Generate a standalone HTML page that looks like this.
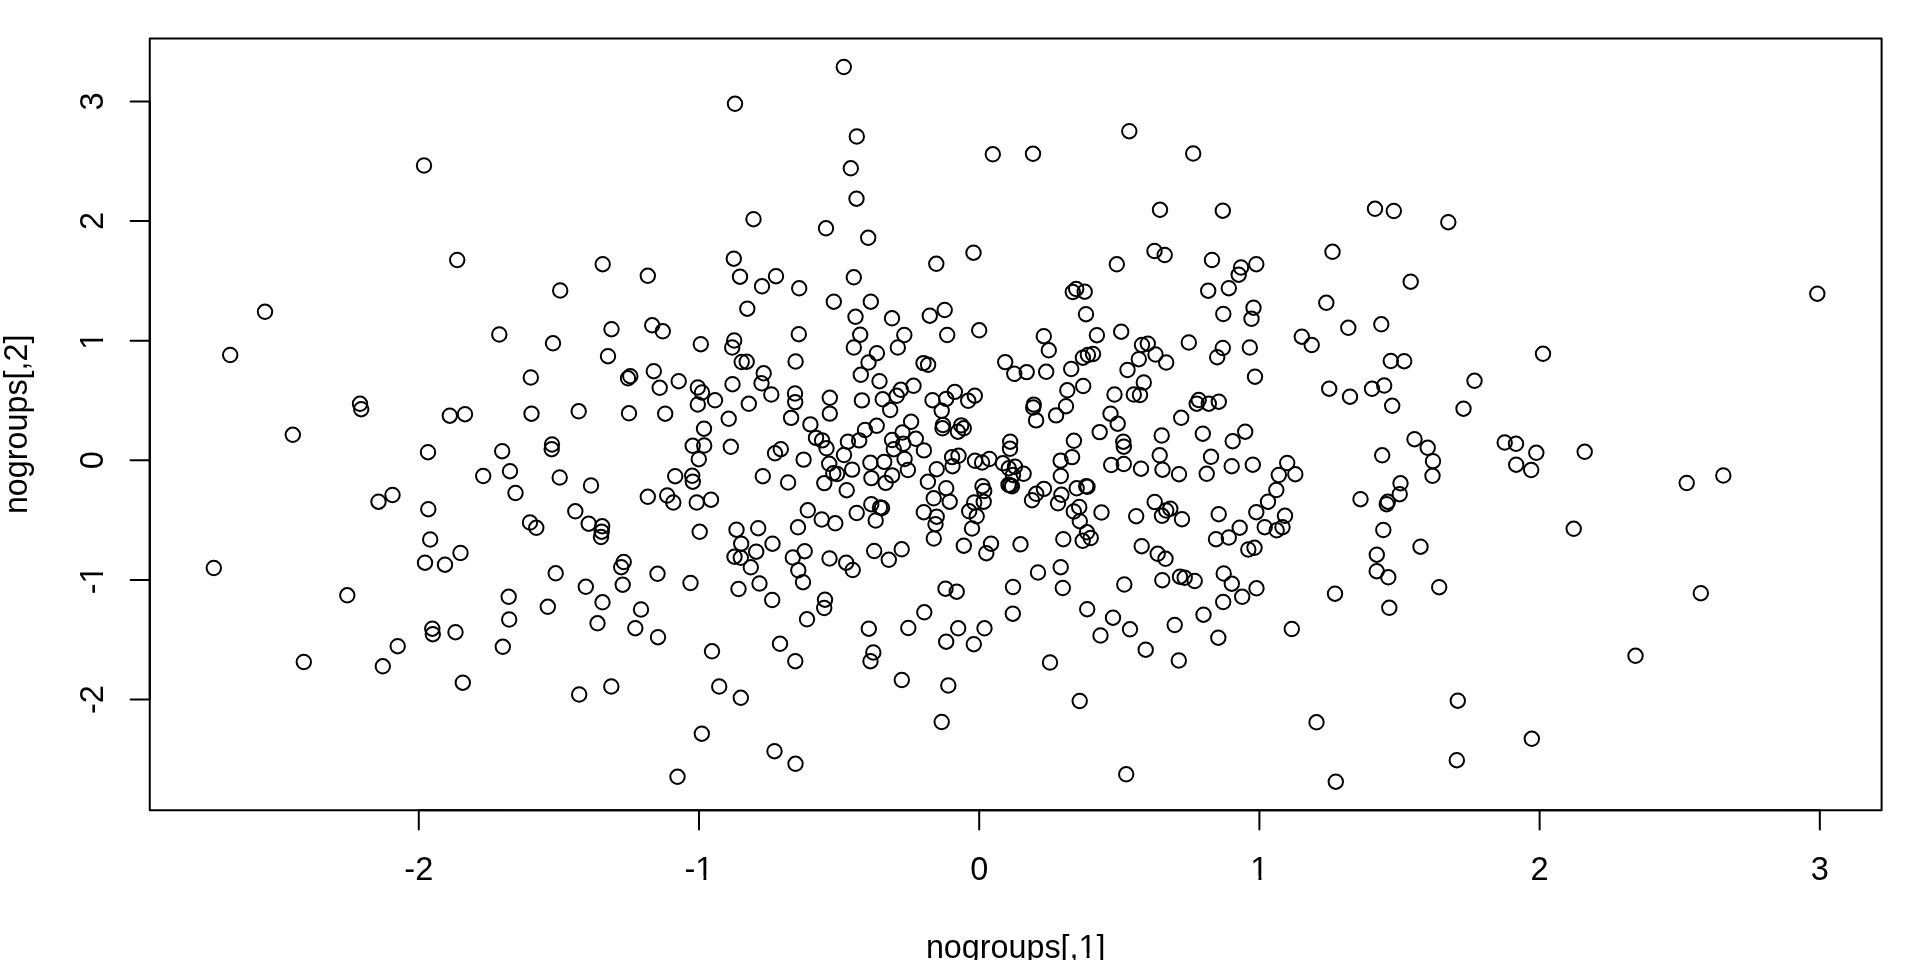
<!DOCTYPE html>
<html><head><meta charset="utf-8"><title>plot</title>
<style>html,body{margin:0;padding:0;background:#fff;overflow:hidden}svg{display:block;will-change:transform}text{font-family:"Liberation Sans",sans-serif;font-size:32.5px;fill:#000}text.t{font-size:32.3px}</style></head><body>
<svg width="1920" height="960" viewBox="0 0 1920 960">
<rect x="0" y="0" width="1920" height="960" fill="#fff"/>
<g fill="none" stroke="#000" stroke-width="2">
<circle cx="424.0" cy="165.5" r="7.2"/>
<circle cx="735.0" cy="103.8" r="7.2"/>
<circle cx="843.8" cy="67.0" r="7.2"/>
<circle cx="856.8" cy="136.5" r="7.2"/>
<circle cx="850.8" cy="168.3" r="7.2"/>
<circle cx="992.8" cy="154.3" r="7.2"/>
<circle cx="1033.0" cy="153.8" r="7.2"/>
<circle cx="1129.3" cy="131.2" r="7.2"/>
<circle cx="1193.2" cy="153.5" r="7.2"/>
<circle cx="1448.3" cy="222.2" r="7.2"/>
<circle cx="265.0" cy="311.8" r="7.2"/>
<circle cx="457.2" cy="260.0" r="7.2"/>
<circle cx="753.5" cy="219.2" r="7.2"/>
<circle cx="733.8" cy="258.7" r="7.2"/>
<circle cx="602.7" cy="264.2" r="7.2"/>
<circle cx="647.8" cy="275.8" r="7.2"/>
<circle cx="740.0" cy="276.7" r="7.2"/>
<circle cx="776.0" cy="276.2" r="7.2"/>
<circle cx="762.0" cy="286.3" r="7.2"/>
<circle cx="560.2" cy="290.5" r="7.2"/>
<circle cx="747.3" cy="308.7" r="7.2"/>
<circle cx="652.2" cy="325.3" r="7.2"/>
<circle cx="662.8" cy="331.3" r="7.2"/>
<circle cx="611.5" cy="329.2" r="7.2"/>
<circle cx="499.3" cy="334.5" r="7.2"/>
<circle cx="553.0" cy="343.3" r="7.2"/>
<circle cx="700.8" cy="344.2" r="7.2"/>
<circle cx="734.2" cy="340.5" r="7.2"/>
<circle cx="732.2" cy="347.5" r="7.2"/>
<circle cx="856.5" cy="198.7" r="7.2"/>
<circle cx="826.0" cy="228.3" r="7.2"/>
<circle cx="868.2" cy="237.8" r="7.2"/>
<circle cx="973.5" cy="252.7" r="7.2"/>
<circle cx="936.3" cy="263.8" r="7.2"/>
<circle cx="853.8" cy="277.3" r="7.2"/>
<circle cx="799.2" cy="288.3" r="7.2"/>
<circle cx="1072.8" cy="292.0" r="7.2"/>
<circle cx="1076.2" cy="289.0" r="7.2"/>
<circle cx="1084.7" cy="291.7" r="7.2"/>
<circle cx="833.8" cy="301.7" r="7.2"/>
<circle cx="870.8" cy="301.7" r="7.2"/>
<circle cx="944.7" cy="310.0" r="7.2"/>
<circle cx="929.8" cy="315.7" r="7.2"/>
<circle cx="855.5" cy="316.8" r="7.2"/>
<circle cx="892.0" cy="318.3" r="7.2"/>
<circle cx="1086.0" cy="314.2" r="7.2"/>
<circle cx="979.2" cy="330.3" r="7.2"/>
<circle cx="798.8" cy="334.2" r="7.2"/>
<circle cx="860.2" cy="334.7" r="7.2"/>
<circle cx="904.3" cy="335.0" r="7.2"/>
<circle cx="947.2" cy="335.0" r="7.2"/>
<circle cx="1043.8" cy="336.2" r="7.2"/>
<circle cx="1096.9" cy="335.2" r="7.2"/>
<circle cx="853.8" cy="347.5" r="7.2"/>
<circle cx="897.8" cy="347.5" r="7.2"/>
<circle cx="1160.0" cy="209.8" r="7.2"/>
<circle cx="1222.8" cy="210.7" r="7.2"/>
<circle cx="1375.0" cy="208.8" r="7.2"/>
<circle cx="1393.8" cy="211.0" r="7.2"/>
<circle cx="1154.5" cy="251.0" r="7.2"/>
<circle cx="1164.7" cy="255.0" r="7.2"/>
<circle cx="1116.8" cy="264.3" r="7.2"/>
<circle cx="1212.0" cy="260.0" r="7.2"/>
<circle cx="1241.0" cy="267.5" r="7.2"/>
<circle cx="1256.3" cy="264.2" r="7.2"/>
<circle cx="1238.7" cy="274.7" r="7.2"/>
<circle cx="1332.5" cy="251.8" r="7.2"/>
<circle cx="1410.7" cy="281.7" r="7.2"/>
<circle cx="1208.2" cy="290.7" r="7.2"/>
<circle cx="1228.8" cy="288.2" r="7.2"/>
<circle cx="1253.5" cy="307.7" r="7.2"/>
<circle cx="1223.3" cy="314.0" r="7.2"/>
<circle cx="1251.5" cy="318.8" r="7.2"/>
<circle cx="1326.3" cy="302.8" r="7.2"/>
<circle cx="1381.3" cy="324.3" r="7.2"/>
<circle cx="1348.3" cy="327.8" r="7.2"/>
<circle cx="1121.2" cy="331.7" r="7.2"/>
<circle cx="1301.8" cy="336.7" r="7.2"/>
<circle cx="1311.7" cy="345.0" r="7.2"/>
<circle cx="1188.8" cy="342.5" r="7.2"/>
<circle cx="1142.0" cy="345.0" r="7.2"/>
<circle cx="1147.8" cy="343.7" r="7.2"/>
<circle cx="1222.8" cy="348.0" r="7.2"/>
<circle cx="1249.8" cy="347.5" r="7.2"/>
<circle cx="1817.3" cy="293.7" r="7.2"/>
<circle cx="230.2" cy="355.0" r="7.2"/>
<circle cx="360.0" cy="403.8" r="7.2"/>
<circle cx="361.2" cy="409.2" r="7.2"/>
<circle cx="292.8" cy="434.8" r="7.2"/>
<circle cx="449.8" cy="415.7" r="7.2"/>
<circle cx="428.0" cy="452.2" r="7.2"/>
<circle cx="392.5" cy="495.0" r="7.2"/>
<circle cx="378.5" cy="501.7" r="7.2"/>
<circle cx="428.3" cy="509.2" r="7.2"/>
<circle cx="608.0" cy="356.2" r="7.2"/>
<circle cx="741.7" cy="362.0" r="7.2"/>
<circle cx="746.7" cy="361.7" r="7.2"/>
<circle cx="530.8" cy="377.5" r="7.2"/>
<circle cx="628.0" cy="378.3" r="7.2"/>
<circle cx="630.3" cy="376.2" r="7.2"/>
<circle cx="653.8" cy="371.2" r="7.2"/>
<circle cx="678.7" cy="381.2" r="7.2"/>
<circle cx="659.7" cy="387.8" r="7.2"/>
<circle cx="763.7" cy="373.3" r="7.2"/>
<circle cx="761.5" cy="383.3" r="7.2"/>
<circle cx="732.5" cy="384.2" r="7.2"/>
<circle cx="697.8" cy="387.5" r="7.2"/>
<circle cx="702.0" cy="392.5" r="7.2"/>
<circle cx="715.0" cy="400.3" r="7.2"/>
<circle cx="771.3" cy="394.5" r="7.2"/>
<circle cx="697.8" cy="404.5" r="7.2"/>
<circle cx="748.8" cy="403.8" r="7.2"/>
<circle cx="465.0" cy="414.2" r="7.2"/>
<circle cx="531.5" cy="413.7" r="7.2"/>
<circle cx="578.7" cy="411.3" r="7.2"/>
<circle cx="629.0" cy="413.3" r="7.2"/>
<circle cx="665.2" cy="413.7" r="7.2"/>
<circle cx="728.7" cy="418.8" r="7.2"/>
<circle cx="704.0" cy="428.7" r="7.2"/>
<circle cx="552.0" cy="444.5" r="7.2"/>
<circle cx="551.7" cy="449.2" r="7.2"/>
<circle cx="502.2" cy="451.2" r="7.2"/>
<circle cx="692.7" cy="445.8" r="7.2"/>
<circle cx="704.2" cy="445.5" r="7.2"/>
<circle cx="730.8" cy="446.8" r="7.2"/>
<circle cx="698.8" cy="459.2" r="7.2"/>
<circle cx="775.0" cy="453.3" r="7.2"/>
<circle cx="780.8" cy="449.2" r="7.2"/>
<circle cx="510.0" cy="471.2" r="7.2"/>
<circle cx="483.2" cy="476.0" r="7.2"/>
<circle cx="559.7" cy="477.5" r="7.2"/>
<circle cx="675.2" cy="476.2" r="7.2"/>
<circle cx="692.2" cy="475.8" r="7.2"/>
<circle cx="692.8" cy="481.7" r="7.2"/>
<circle cx="762.8" cy="476.2" r="7.2"/>
<circle cx="591.0" cy="485.5" r="7.2"/>
<circle cx="515.5" cy="493.0" r="7.2"/>
<circle cx="647.8" cy="496.8" r="7.2"/>
<circle cx="667.2" cy="495.5" r="7.2"/>
<circle cx="673.3" cy="502.5" r="7.2"/>
<circle cx="696.7" cy="502.5" r="7.2"/>
<circle cx="711.0" cy="499.7" r="7.2"/>
<circle cx="795.6" cy="361.5" r="7.2"/>
<circle cx="876.9" cy="353.2" r="7.2"/>
<circle cx="868.5" cy="362.5" r="7.2"/>
<circle cx="923.5" cy="363.1" r="7.2"/>
<circle cx="928.1" cy="364.8" r="7.2"/>
<circle cx="860.8" cy="374.8" r="7.2"/>
<circle cx="879.5" cy="381.2" r="7.2"/>
<circle cx="913.5" cy="385.8" r="7.2"/>
<circle cx="900.8" cy="389.8" r="7.2"/>
<circle cx="896.7" cy="395.8" r="7.2"/>
<circle cx="795.0" cy="393.5" r="7.2"/>
<circle cx="795.2" cy="402.1" r="7.2"/>
<circle cx="829.8" cy="397.8" r="7.2"/>
<circle cx="829.8" cy="413.6" r="7.2"/>
<circle cx="861.9" cy="400.4" r="7.2"/>
<circle cx="882.7" cy="399.3" r="7.2"/>
<circle cx="890.2" cy="410.0" r="7.2"/>
<circle cx="932.5" cy="400.2" r="7.2"/>
<circle cx="791.1" cy="417.9" r="7.2"/>
<circle cx="810.4" cy="424.4" r="7.2"/>
<circle cx="911.1" cy="421.8" r="7.2"/>
<circle cx="1005.2" cy="362.1" r="7.2"/>
<circle cx="1014.3" cy="373.8" r="7.2"/>
<circle cx="1026.7" cy="372.1" r="7.2"/>
<circle cx="1046.2" cy="371.8" r="7.2"/>
<circle cx="1048.8" cy="350.3" r="7.2"/>
<circle cx="1071.2" cy="369.0" r="7.2"/>
<circle cx="1083.2" cy="386.0" r="7.2"/>
<circle cx="1067.3" cy="390.3" r="7.2"/>
<circle cx="1066.0" cy="406.2" r="7.2"/>
<circle cx="1056.1" cy="415.4" r="7.2"/>
<circle cx="1033.8" cy="404.6" r="7.2"/>
<circle cx="1033.2" cy="407.5" r="7.2"/>
<circle cx="1036.1" cy="420.4" r="7.2"/>
<circle cx="954.8" cy="391.9" r="7.2"/>
<circle cx="974.8" cy="395.7" r="7.2"/>
<circle cx="968.2" cy="400.8" r="7.2"/>
<circle cx="946.2" cy="398.9" r="7.2"/>
<circle cx="941.7" cy="410.8" r="7.2"/>
<circle cx="1082.9" cy="357.7" r="7.2"/>
<circle cx="1087.9" cy="355.0" r="7.2"/>
<circle cx="1093.0" cy="354.0" r="7.2"/>
<circle cx="876.7" cy="425.8" r="7.2"/>
<circle cx="865.0" cy="430.0" r="7.2"/>
<circle cx="816.0" cy="437.9" r="7.2"/>
<circle cx="822.1" cy="440.4" r="7.2"/>
<circle cx="826.5" cy="448.3" r="7.2"/>
<circle cx="847.9" cy="441.7" r="7.2"/>
<circle cx="859.2" cy="440.4" r="7.2"/>
<circle cx="844.0" cy="455.0" r="7.2"/>
<circle cx="803.6" cy="459.6" r="7.2"/>
<circle cx="829.2" cy="463.8" r="7.2"/>
<circle cx="852.1" cy="469.6" r="7.2"/>
<circle cx="833.3" cy="473.3" r="7.2"/>
<circle cx="837.1" cy="474.0" r="7.2"/>
<circle cx="824.3" cy="483.1" r="7.2"/>
<circle cx="788.1" cy="482.5" r="7.2"/>
<circle cx="846.7" cy="490.2" r="7.2"/>
<circle cx="892.1" cy="440.0" r="7.2"/>
<circle cx="902.5" cy="432.5" r="7.2"/>
<circle cx="915.8" cy="438.8" r="7.2"/>
<circle cx="903.3" cy="443.8" r="7.2"/>
<circle cx="893.8" cy="449.2" r="7.2"/>
<circle cx="923.9" cy="450.4" r="7.2"/>
<circle cx="904.6" cy="459.0" r="7.2"/>
<circle cx="870.4" cy="462.8" r="7.2"/>
<circle cx="884.2" cy="461.9" r="7.2"/>
<circle cx="907.9" cy="470.0" r="7.2"/>
<circle cx="871.4" cy="478.1" r="7.2"/>
<circle cx="892.1" cy="475.4" r="7.2"/>
<circle cx="885.7" cy="482.9" r="7.2"/>
<circle cx="927.9" cy="481.8" r="7.2"/>
<circle cx="936.7" cy="469.2" r="7.2"/>
<circle cx="943.0" cy="425.0" r="7.2"/>
<circle cx="942.5" cy="428.3" r="7.2"/>
<circle cx="961.2" cy="425.4" r="7.2"/>
<circle cx="963.8" cy="428.3" r="7.2"/>
<circle cx="957.9" cy="431.7" r="7.2"/>
<circle cx="1099.7" cy="432.1" r="7.2"/>
<circle cx="1073.9" cy="440.8" r="7.2"/>
<circle cx="1010.2" cy="441.7" r="7.2"/>
<circle cx="1010.0" cy="448.8" r="7.2"/>
<circle cx="1072.1" cy="457.1" r="7.2"/>
<circle cx="1060.6" cy="460.6" r="7.2"/>
<circle cx="1060.8" cy="476.0" r="7.2"/>
<circle cx="952.1" cy="457.1" r="7.2"/>
<circle cx="958.5" cy="455.8" r="7.2"/>
<circle cx="952.5" cy="466.2" r="7.2"/>
<circle cx="975.0" cy="460.8" r="7.2"/>
<circle cx="982.1" cy="462.5" r="7.2"/>
<circle cx="989.4" cy="459.0" r="7.2"/>
<circle cx="1002.9" cy="463.3" r="7.2"/>
<circle cx="1008.8" cy="468.3" r="7.2"/>
<circle cx="1015.0" cy="466.7" r="7.2"/>
<circle cx="1023.6" cy="473.8" r="7.2"/>
<circle cx="1013.0" cy="475.0" r="7.2"/>
<circle cx="1008.5" cy="484.8" r="7.2"/>
<circle cx="1010.2" cy="485.4" r="7.2"/>
<circle cx="1012.0" cy="486.3" r="7.2"/>
<circle cx="946.2" cy="488.2" r="7.2"/>
<circle cx="982.5" cy="486.2" r="7.2"/>
<circle cx="984.2" cy="491.0" r="7.2"/>
<circle cx="1043.9" cy="488.9" r="7.2"/>
<circle cx="1036.2" cy="493.8" r="7.2"/>
<circle cx="1061.4" cy="494.8" r="7.2"/>
<circle cx="1076.7" cy="488.3" r="7.2"/>
<circle cx="1086.2" cy="486.2" r="7.2"/>
<circle cx="1087.5" cy="486.7" r="7.2"/>
<circle cx="1155.5" cy="354.5" r="7.2"/>
<circle cx="1138.8" cy="359.2" r="7.2"/>
<circle cx="1166.2" cy="362.5" r="7.2"/>
<circle cx="1127.5" cy="370.0" r="7.2"/>
<circle cx="1217.2" cy="357.2" r="7.2"/>
<circle cx="1390.8" cy="361.0" r="7.2"/>
<circle cx="1404.2" cy="361.2" r="7.2"/>
<circle cx="1255.0" cy="376.7" r="7.2"/>
<circle cx="1143.8" cy="382.5" r="7.2"/>
<circle cx="1114.5" cy="394.5" r="7.2"/>
<circle cx="1133.8" cy="394.5" r="7.2"/>
<circle cx="1140.0" cy="395.0" r="7.2"/>
<circle cx="1329.2" cy="388.7" r="7.2"/>
<circle cx="1350.0" cy="396.7" r="7.2"/>
<circle cx="1372.0" cy="388.8" r="7.2"/>
<circle cx="1384.2" cy="385.5" r="7.2"/>
<circle cx="1392.2" cy="405.8" r="7.2"/>
<circle cx="1198.7" cy="400.0" r="7.2"/>
<circle cx="1196.7" cy="403.7" r="7.2"/>
<circle cx="1208.8" cy="403.7" r="7.2"/>
<circle cx="1218.8" cy="401.7" r="7.2"/>
<circle cx="1110.5" cy="413.7" r="7.2"/>
<circle cx="1117.7" cy="423.7" r="7.2"/>
<circle cx="1181.2" cy="417.8" r="7.2"/>
<circle cx="1161.7" cy="435.5" r="7.2"/>
<circle cx="1202.8" cy="433.7" r="7.2"/>
<circle cx="1245.2" cy="431.7" r="7.2"/>
<circle cx="1232.7" cy="441.2" r="7.2"/>
<circle cx="1123.3" cy="441.7" r="7.2"/>
<circle cx="1123.8" cy="446.7" r="7.2"/>
<circle cx="1414.5" cy="439.2" r="7.2"/>
<circle cx="1382.2" cy="455.3" r="7.2"/>
<circle cx="1159.7" cy="455.3" r="7.2"/>
<circle cx="1211.0" cy="456.8" r="7.2"/>
<circle cx="1111.2" cy="465.0" r="7.2"/>
<circle cx="1123.8" cy="464.0" r="7.2"/>
<circle cx="1141.0" cy="468.7" r="7.2"/>
<circle cx="1162.5" cy="469.7" r="7.2"/>
<circle cx="1179.0" cy="474.2" r="7.2"/>
<circle cx="1206.7" cy="473.8" r="7.2"/>
<circle cx="1231.7" cy="466.2" r="7.2"/>
<circle cx="1252.8" cy="464.7" r="7.2"/>
<circle cx="1287.2" cy="463.0" r="7.2"/>
<circle cx="1278.8" cy="475.0" r="7.2"/>
<circle cx="1295.3" cy="474.2" r="7.2"/>
<circle cx="1276.3" cy="490.0" r="7.2"/>
<circle cx="1268.0" cy="501.7" r="7.2"/>
<circle cx="1400.5" cy="483.3" r="7.2"/>
<circle cx="1399.7" cy="494.2" r="7.2"/>
<circle cx="1360.5" cy="499.2" r="7.2"/>
<circle cx="1387.8" cy="501.7" r="7.2"/>
<circle cx="1386.7" cy="504.2" r="7.2"/>
<circle cx="1154.7" cy="502.0" r="7.2"/>
<circle cx="1543.0" cy="353.8" r="7.2"/>
<circle cx="1474.5" cy="380.8" r="7.2"/>
<circle cx="1463.5" cy="408.7" r="7.2"/>
<circle cx="1427.7" cy="447.8" r="7.2"/>
<circle cx="1433.0" cy="461.2" r="7.2"/>
<circle cx="1432.5" cy="475.8" r="7.2"/>
<circle cx="1504.7" cy="442.5" r="7.2"/>
<circle cx="1516.0" cy="443.8" r="7.2"/>
<circle cx="1536.3" cy="452.8" r="7.2"/>
<circle cx="1584.7" cy="451.8" r="7.2"/>
<circle cx="1516.2" cy="464.7" r="7.2"/>
<circle cx="1531.2" cy="470.0" r="7.2"/>
<circle cx="1686.7" cy="483.0" r="7.2"/>
<circle cx="1723.3" cy="475.5" r="7.2"/>
<circle cx="430.2" cy="539.5" r="7.2"/>
<circle cx="425.0" cy="562.7" r="7.2"/>
<circle cx="445.0" cy="564.7" r="7.2"/>
<circle cx="460.5" cy="553.0" r="7.2"/>
<circle cx="213.8" cy="568.0" r="7.2"/>
<circle cx="347.3" cy="595.3" r="7.2"/>
<circle cx="432.3" cy="628.7" r="7.2"/>
<circle cx="432.8" cy="634.2" r="7.2"/>
<circle cx="455.5" cy="632.2" r="7.2"/>
<circle cx="397.7" cy="646.2" r="7.2"/>
<circle cx="303.8" cy="662.0" r="7.2"/>
<circle cx="382.8" cy="666.3" r="7.2"/>
<circle cx="575.3" cy="511.3" r="7.2"/>
<circle cx="530.0" cy="522.5" r="7.2"/>
<circle cx="536.3" cy="527.8" r="7.2"/>
<circle cx="588.7" cy="523.7" r="7.2"/>
<circle cx="602.2" cy="526.3" r="7.2"/>
<circle cx="601.7" cy="531.7" r="7.2"/>
<circle cx="601.0" cy="537.0" r="7.2"/>
<circle cx="699.7" cy="531.8" r="7.2"/>
<circle cx="736.5" cy="529.7" r="7.2"/>
<circle cx="758.2" cy="528.2" r="7.2"/>
<circle cx="741.2" cy="543.7" r="7.2"/>
<circle cx="772.5" cy="543.7" r="7.2"/>
<circle cx="756.2" cy="551.7" r="7.2"/>
<circle cx="734.5" cy="556.7" r="7.2"/>
<circle cx="740.8" cy="557.8" r="7.2"/>
<circle cx="750.8" cy="567.3" r="7.2"/>
<circle cx="623.7" cy="562.0" r="7.2"/>
<circle cx="621.2" cy="567.2" r="7.2"/>
<circle cx="555.7" cy="573.3" r="7.2"/>
<circle cx="657.5" cy="573.8" r="7.2"/>
<circle cx="690.5" cy="583.0" r="7.2"/>
<circle cx="585.8" cy="586.8" r="7.2"/>
<circle cx="622.7" cy="584.7" r="7.2"/>
<circle cx="759.5" cy="583.5" r="7.2"/>
<circle cx="738.5" cy="589.0" r="7.2"/>
<circle cx="508.7" cy="596.8" r="7.2"/>
<circle cx="772.2" cy="600.0" r="7.2"/>
<circle cx="547.8" cy="606.8" r="7.2"/>
<circle cx="602.5" cy="602.3" r="7.2"/>
<circle cx="641.0" cy="609.5" r="7.2"/>
<circle cx="509.2" cy="619.5" r="7.2"/>
<circle cx="597.5" cy="623.3" r="7.2"/>
<circle cx="635.3" cy="628.2" r="7.2"/>
<circle cx="658.0" cy="637.2" r="7.2"/>
<circle cx="502.8" cy="646.8" r="7.2"/>
<circle cx="712.0" cy="651.3" r="7.2"/>
<circle cx="780.0" cy="643.8" r="7.2"/>
<circle cx="1032.0" cy="500.2" r="7.2"/>
<circle cx="1058.0" cy="503.3" r="7.2"/>
<circle cx="1079.2" cy="507.0" r="7.2"/>
<circle cx="1073.8" cy="511.5" r="7.2"/>
<circle cx="1079.8" cy="521.2" r="7.2"/>
<circle cx="1101.5" cy="512.5" r="7.2"/>
<circle cx="933.7" cy="498.3" r="7.2"/>
<circle cx="949.7" cy="501.7" r="7.2"/>
<circle cx="974.2" cy="502.5" r="7.2"/>
<circle cx="983.7" cy="501.7" r="7.2"/>
<circle cx="969.2" cy="511.3" r="7.2"/>
<circle cx="976.7" cy="516.3" r="7.2"/>
<circle cx="972.0" cy="528.5" r="7.2"/>
<circle cx="871.3" cy="504.2" r="7.2"/>
<circle cx="880.0" cy="507.5" r="7.2"/>
<circle cx="882.0" cy="508.0" r="7.2"/>
<circle cx="856.7" cy="513.0" r="7.2"/>
<circle cx="875.7" cy="520.5" r="7.2"/>
<circle cx="807.8" cy="510.3" r="7.2"/>
<circle cx="821.7" cy="519.5" r="7.2"/>
<circle cx="835.3" cy="523.3" r="7.2"/>
<circle cx="798.0" cy="527.3" r="7.2"/>
<circle cx="923.8" cy="512.2" r="7.2"/>
<circle cx="936.7" cy="516.7" r="7.2"/>
<circle cx="935.5" cy="524.2" r="7.2"/>
<circle cx="933.8" cy="538.5" r="7.2"/>
<circle cx="963.8" cy="545.7" r="7.2"/>
<circle cx="991.0" cy="543.7" r="7.2"/>
<circle cx="986.3" cy="553.2" r="7.2"/>
<circle cx="1020.5" cy="544.3" r="7.2"/>
<circle cx="1063.3" cy="539.2" r="7.2"/>
<circle cx="1087.0" cy="532.3" r="7.2"/>
<circle cx="1090.7" cy="538.0" r="7.2"/>
<circle cx="1082.7" cy="540.8" r="7.2"/>
<circle cx="804.7" cy="551.2" r="7.2"/>
<circle cx="792.8" cy="557.5" r="7.2"/>
<circle cx="829.5" cy="558.5" r="7.2"/>
<circle cx="846.2" cy="562.7" r="7.2"/>
<circle cx="852.7" cy="570.0" r="7.2"/>
<circle cx="874.2" cy="551.0" r="7.2"/>
<circle cx="888.8" cy="559.8" r="7.2"/>
<circle cx="901.7" cy="549.3" r="7.2"/>
<circle cx="798.3" cy="570.3" r="7.2"/>
<circle cx="803.0" cy="582.2" r="7.2"/>
<circle cx="1060.7" cy="567.2" r="7.2"/>
<circle cx="1038.0" cy="572.5" r="7.2"/>
<circle cx="1013.0" cy="587.0" r="7.2"/>
<circle cx="1062.8" cy="588.0" r="7.2"/>
<circle cx="945.5" cy="588.7" r="7.2"/>
<circle cx="956.7" cy="591.7" r="7.2"/>
<circle cx="825.0" cy="599.7" r="7.2"/>
<circle cx="824.2" cy="608.0" r="7.2"/>
<circle cx="807.0" cy="619.3" r="7.2"/>
<circle cx="924.3" cy="612.3" r="7.2"/>
<circle cx="1012.8" cy="613.7" r="7.2"/>
<circle cx="1087.2" cy="609.2" r="7.2"/>
<circle cx="868.8" cy="628.7" r="7.2"/>
<circle cx="908.3" cy="628.0" r="7.2"/>
<circle cx="958.2" cy="628.3" r="7.2"/>
<circle cx="984.5" cy="628.3" r="7.2"/>
<circle cx="946.2" cy="641.7" r="7.2"/>
<circle cx="973.8" cy="644.2" r="7.2"/>
<circle cx="1100.5" cy="635.5" r="7.2"/>
<circle cx="1136.2" cy="516.2" r="7.2"/>
<circle cx="1162.0" cy="515.8" r="7.2"/>
<circle cx="1166.2" cy="510.5" r="7.2"/>
<circle cx="1170.3" cy="508.7" r="7.2"/>
<circle cx="1182.0" cy="519.2" r="7.2"/>
<circle cx="1218.7" cy="514.2" r="7.2"/>
<circle cx="1256.3" cy="512.2" r="7.2"/>
<circle cx="1285.0" cy="515.8" r="7.2"/>
<circle cx="1239.7" cy="527.7" r="7.2"/>
<circle cx="1264.7" cy="527.2" r="7.2"/>
<circle cx="1276.7" cy="530.3" r="7.2"/>
<circle cx="1282.5" cy="527.2" r="7.2"/>
<circle cx="1383.3" cy="530.0" r="7.2"/>
<circle cx="1216.0" cy="539.2" r="7.2"/>
<circle cx="1228.8" cy="537.5" r="7.2"/>
<circle cx="1141.7" cy="546.2" r="7.2"/>
<circle cx="1157.7" cy="553.8" r="7.2"/>
<circle cx="1165.5" cy="558.8" r="7.2"/>
<circle cx="1248.3" cy="549.5" r="7.2"/>
<circle cx="1254.5" cy="547.8" r="7.2"/>
<circle cx="1420.5" cy="546.7" r="7.2"/>
<circle cx="1376.8" cy="554.7" r="7.2"/>
<circle cx="1376.7" cy="571.2" r="7.2"/>
<circle cx="1388.3" cy="577.3" r="7.2"/>
<circle cx="1223.7" cy="573.5" r="7.2"/>
<circle cx="1231.8" cy="583.7" r="7.2"/>
<circle cx="1124.3" cy="584.5" r="7.2"/>
<circle cx="1162.3" cy="580.2" r="7.2"/>
<circle cx="1180.0" cy="576.7" r="7.2"/>
<circle cx="1184.7" cy="577.8" r="7.2"/>
<circle cx="1194.7" cy="581.0" r="7.2"/>
<circle cx="1256.5" cy="588.3" r="7.2"/>
<circle cx="1242.2" cy="596.8" r="7.2"/>
<circle cx="1223.2" cy="602.0" r="7.2"/>
<circle cx="1335.0" cy="593.7" r="7.2"/>
<circle cx="1389.3" cy="607.8" r="7.2"/>
<circle cx="1203.5" cy="614.7" r="7.2"/>
<circle cx="1113.0" cy="617.7" r="7.2"/>
<circle cx="1174.7" cy="625.0" r="7.2"/>
<circle cx="1130.0" cy="629.3" r="7.2"/>
<circle cx="1291.8" cy="629.0" r="7.2"/>
<circle cx="1218.3" cy="637.7" r="7.2"/>
<circle cx="1145.7" cy="649.7" r="7.2"/>
<circle cx="1178.8" cy="660.5" r="7.2"/>
<circle cx="1573.7" cy="528.8" r="7.2"/>
<circle cx="1439.2" cy="587.2" r="7.2"/>
<circle cx="1700.8" cy="593.2" r="7.2"/>
<circle cx="1635.5" cy="655.8" r="7.2"/>
<circle cx="462.8" cy="682.7" r="7.2"/>
<circle cx="579.2" cy="694.5" r="7.2"/>
<circle cx="611.3" cy="686.5" r="7.2"/>
<circle cx="719.2" cy="686.5" r="7.2"/>
<circle cx="740.8" cy="697.8" r="7.2"/>
<circle cx="701.8" cy="733.7" r="7.2"/>
<circle cx="774.5" cy="751.2" r="7.2"/>
<circle cx="677.5" cy="776.8" r="7.2"/>
<circle cx="795.3" cy="661.2" r="7.2"/>
<circle cx="873.3" cy="652.5" r="7.2"/>
<circle cx="870.5" cy="661.2" r="7.2"/>
<circle cx="901.8" cy="680.0" r="7.2"/>
<circle cx="948.3" cy="685.5" r="7.2"/>
<circle cx="1050.0" cy="662.5" r="7.2"/>
<circle cx="1079.7" cy="701.0" r="7.2"/>
<circle cx="941.7" cy="722.0" r="7.2"/>
<circle cx="795.5" cy="763.8" r="7.2"/>
<circle cx="1126.2" cy="774.3" r="7.2"/>
<circle cx="1316.5" cy="722.3" r="7.2"/>
<circle cx="1335.8" cy="781.7" r="7.2"/>
<circle cx="1457.8" cy="700.7" r="7.2"/>
<circle cx="1531.8" cy="738.8" r="7.2"/>
<circle cx="1456.8" cy="760.2" r="7.2"/>
</g>
<g fill="none" stroke="#000" stroke-width="2" stroke-linecap="round" stroke-linejoin="round">
<path d="M418.78 810.24H1819.83"/>
<path d="M418.78 810.24v19.2"/>
<path d="M698.99 810.24v19.2"/>
<path d="M979.20 810.24v19.2"/>
<path d="M1259.41 810.24v19.2"/>
<path d="M1539.62 810.24v19.2"/>
<path d="M1819.83 810.24v19.2"/>
<path d="M149.76 699.52V101.42"/>
<path d="M149.76 699.52h-19.2"/>
<path d="M149.76 579.90h-19.2"/>
<path d="M149.76 460.28h-19.2"/>
<path d="M149.76 340.66h-19.2"/>
<path d="M149.76 221.04h-19.2"/>
<path d="M149.76 101.42h-19.2"/>
<rect x="149.76" y="38.4" width="1731.84" height="771.84"/>
</g>
<text x="418.78" y="880.4" text-anchor="middle">-2</text>
<text x="698.99" y="880.4" text-anchor="middle">-1</text>
<text x="979.20" y="880.4" text-anchor="middle">0</text>
<text x="1259.41" y="880.4" text-anchor="middle">1</text>
<text x="1539.62" y="880.4" text-anchor="middle">2</text>
<text x="1819.83" y="880.4" text-anchor="middle">3</text>
<text transform="translate(103.2 699.52) rotate(-90)" text-anchor="middle">-2</text>
<text transform="translate(103.2 579.90) rotate(-90)" text-anchor="middle">-1</text>
<text transform="translate(103.2 460.28) rotate(-90)" text-anchor="middle">0</text>
<text transform="translate(103.2 340.66) rotate(-90)" text-anchor="middle">1</text>
<text transform="translate(103.2 221.04) rotate(-90)" text-anchor="middle">2</text>
<text transform="translate(103.2 101.42) rotate(-90)" text-anchor="middle">3</text>
<text x="1015.68" y="957.5" text-anchor="middle" class="t">nogroups[,1]</text>
<text transform="translate(26.7 424.32) rotate(-90)" text-anchor="middle" class="t">nogroups[,2]</text>
<rect x="696.87" y="876.23" width="6.65" height="5.67" fill="#fff"/><rect x="706.39" y="876.23" width="6.40" height="5.67" fill="#fff"/>
<rect x="1251.89" y="876.23" width="6.65" height="5.67" fill="#fff"/><rect x="1261.42" y="876.23" width="6.40" height="5.67" fill="#fff"/>
<g transform="translate(103.2 579.90) rotate(-90)"><rect x="-2.12" y="-4.17" width="6.65" height="5.67" fill="#fff"/><rect x="7.40" y="-4.17" width="6.40" height="5.67" fill="#fff"/></g>
<g transform="translate(103.2 340.66) rotate(-90)"><rect x="-7.52" y="-4.17" width="6.65" height="5.67" fill="#fff"/><rect x="2.01" y="-4.17" width="6.40" height="5.67" fill="#fff"/></g>
<rect x="1080.02" y="953.35" width="6.61" height="5.65" fill="#fff"/><rect x="1089.49" y="953.35" width="6.36" height="5.65" fill="#fff"/>
</svg></body></html>
